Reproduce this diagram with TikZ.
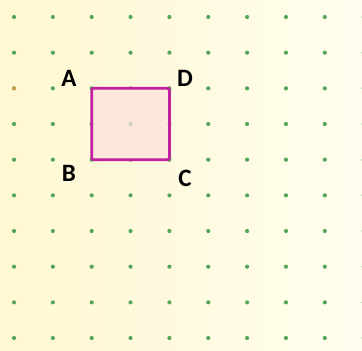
\documentclass[tikz,border=0pt]{standalone}
\usepackage{fontspec}
\setmainfont{Carlito}
\begin{document}
\begin{tikzpicture}[x=1pt,y=-1pt,
  gdot/.style={circle,fill=dotgreen,inner sep=0pt,minimum size=4.2pt},
  odot/.style={circle,fill=dotorange,inner sep=0pt,minimum size=4.2pt},
  lab/.style={font=\fontsize{25}{25}\selectfont\bfseries,text=black,inner sep=0pt},
  sq/.style={draw=sqline,line width=2.8pt,rounded corners=2pt,fill=sqfill,fill opacity=0.75}]
\definecolor{dotgreen}{HTML}{55A65A}
\definecolor{dotorange}{HTML}{C8A24C}
\definecolor{sqline}{HTML}{C0219E}
\definecolor{sqfill}{HTML}{FBE2DB}
\definecolor{bgl}{HTML}{FFF8D2}
\definecolor{bgr}{HTML}{FFFDEE}
\useasboundingbox (0,0) rectangle (362,351);
\shade[left color=bgl,right color=bgr] (0,0) rectangle (362,351);
\clip (0,0) rectangle (362,351);
\foreach \i in {0,...,9}{
  \foreach \j in {0,...,9}{
    \pgfmathsetmacro\xx{14+38.85*\i}
    \pgfmathsetmacro\yy{17+35.67*\j}
    \node[gdot] (d\i\j) at (\xx,\yy) {};
  }
}
\node[odot] (o) at (d02) {};
\coordinate (pa) at (d22);
\coordinate (pb) at (d24);
\coordinate (pc) at (d44);
\coordinate (pd) at (d42);
\draw[sq] (pa) -- (pd) -- (pc) -- (pb) -- cycle;
\node[lab] (A) at (69,78) {A};
\node[lab] (D) at (185,78) {D};
\node[lab] (B) at (69,173) {B};
\node[lab] (C) at (185,178) {C};
\end{tikzpicture}
\end{document}
